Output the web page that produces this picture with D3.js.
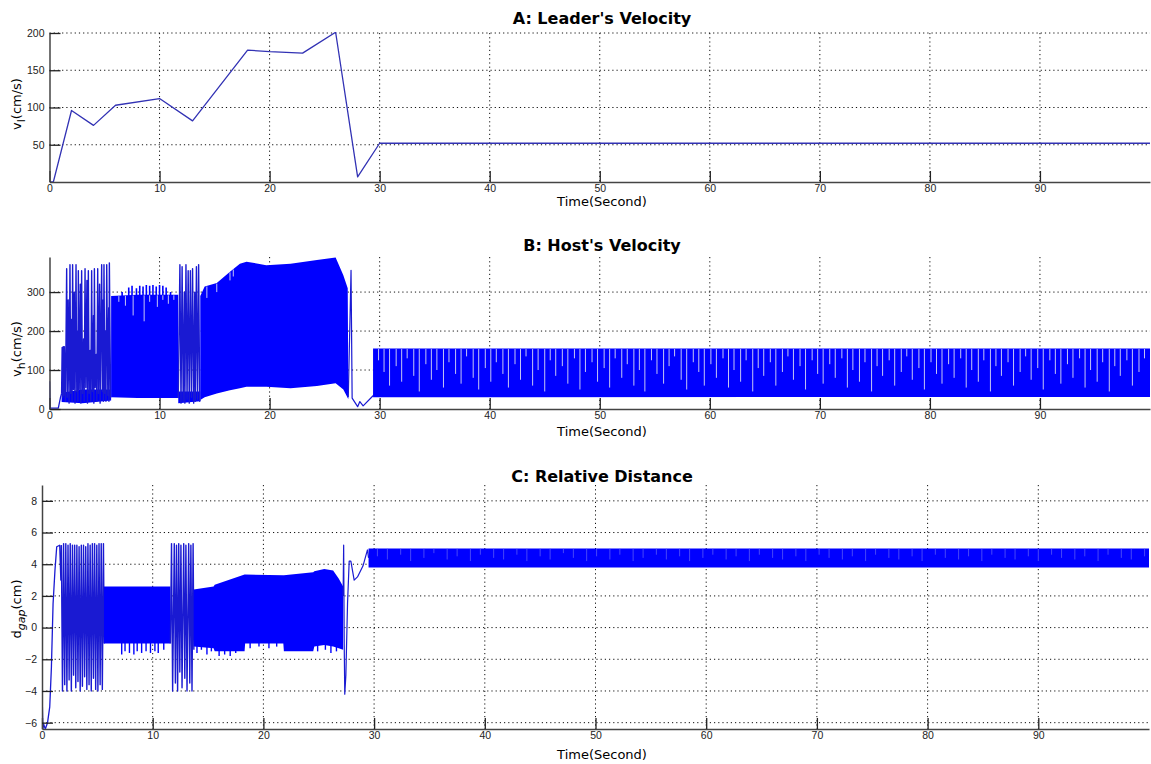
<!DOCTYPE html>
<html>
<head>
<meta charset="utf-8">
<script src="https://cdn.jsdelivr.net/npm/d3@7"></script>
<style>
  body { margin: 0; background: #fff; }
  svg { display: block; }
</style>
</head>
<body>
<div id="chart"></div>
<script>
var WIDTH = 1151
var HEIGHT = 764

// ---- A: leader's velocity ----
var leaderTime = [0, 0.35, 2, 4, 6, 10, 13, 18, 20, 23, 26, 28, 30, 100]
var leaderVel = [0, 0, 96, 76, 103, 112, 82, 177, 175, 173, 201, 7, 52, 52]

// ---- B: host's velocity ----
var xTicks = [0, 10, 20, 30, 40, 50, 60, 70, 80, 90]
var hostStart = [[0, 0], [0.01, 70], [0.05, 4], [0.1, 2], [0.8, 2], [1.0, 30], [1.1, 40]]
var hostBurst1 = [[1.1, 40], [1.15, 158], [1.2, 30], [1.25, 160], [1.3, 35], [1.35, 160], [1.45, 20], [1.56, 360],
  [1.62, 30], [1.7, 280], [1.78, 15], [1.86, 370], [1.93, 40], [2.0, 230], [2.05, 20], [2.1, 370], [2.18, 50],
  [2.25, 300], [2.32, 15], [2.41, 370], [2.48, 45], [2.55, 200], [2.58, 20], [2.62, 355], [2.7, 50], [2.8, 320],
  [2.85, 15], [2.92, 355], [3.0, 40], [3.1, 180], [3.15, 20], [3.23, 360], [3.3, 55], [3.4, 330], [3.45, 15],
  [3.53, 355], [3.6, 40], [3.7, 150], [3.75, 20], [3.83, 355], [3.9, 45], [4.0, 240], [4.03, 15], [4.08, 360],
  [4.15, 55], [4.25, 140], [4.3, 20], [4.38, 360], [4.45, 40], [4.55, 320], [4.6, 15], [4.74, 370], [4.8, 45],
  [4.88, 280], [4.9, 20], [4.95, 370], [5.03, 40], [5.1, 200], [5.13, 20], [5.2, 370], [5.3, 35], [5.38, 260],
  [5.4, 20], [5.44, 375], [5.55, 30], [5.6, 30]]
var hostBurst1Base = [[1.1, 18, 42], [3.0, 15, 50], [5.6, 22, 50]]
var hostBand1 = [[5.6, 30, 290], [8.0, 28, 293], [11.7, 28, 293]]
var hostTopSpikes = [[6.6, 300], [7.2, 312], [7.5, 316], [7.9, 310], [8.2, 316], [8.5, 314], [8.8, 318], [9.1, 316],
  [9.4, 318], [9.7, 314], [10.0, 318], [10.3, 316], [10.6, 312], [11.0, 300]]
var hostBand1Gaps = [[6.3, 275], [6.9, 265], [7.6, 240], [8.6, 225], [9.1, 275], [9.8, 262], [10.3, 280], [10.8, 270], [11.3, 280]]
var hostBurst2 = [[11.7, 28], [11.85, 370], [11.95, 15], [12.05, 365], [12.15, 20], [12.25, 300], [12.3, 15],
  [12.4, 370], [12.5, 25], [12.6, 355], [12.7, 15], [12.8, 355], [12.9, 30], [13.0, 360], [13.1, 15], [13.2, 300],
  [13.25, 20], [13.35, 365], [13.45, 25], [13.55, 370], [13.65, 20], [13.7, 23]]
var hostBurst2Base = [[11.7, 15, 45], [13.7, 20, 45]]
var hostBand2 = [[13.7, 23, 290], [14.1, 30, 314], [15.2, 40, 323], [16.4, 48, 352], [17.3, 53, 373], [17.9, 57, 378],
  [19.7, 57, 369], [21.9, 53, 373], [24.3, 59, 382], [26.0, 66, 389], [26.7, 50, 343], [27.1, 28, 310], [27.15, 25, 60]]
var hostBand2Gaps = [[14.3, 285], [15.2, 300], [16.4, 330], [16.7, 340]]
var hostEnd = [[27.15, 30], [27.4, 356], [27.5, 28], [28.0, 6], [28.2, 19], [28.5, 8], [29.4, 34], [29.5, 36]]
var hostBand3 = [[29.4, 30, 155], [100, 31, 155]]
var hostBand3Gaps = [[29.9, 125], [30.4, 95], [30.9, 60], [31.5, 110], [32.0, 70], [32.5, 130], [33.1, 85], [33.6, 45], [34.2, 115], [34.7, 75],
  [35.2, 100], [35.8, 55], [36.3, 120], [36.9, 90], [37.4, 65], [37.9, 135], [38.5, 80], [39.0, 50], [39.6, 105], [40.1, 70],
  [40.6, 120], [41.2, 90], [41.7, 55], [42.3, 115], [42.8, 75], [43.3, 135], [43.9, 60], [44.4, 100], [45.0, 45], [45.5, 125],
  [46.0, 85], [46.6, 110], [47.1, 65], [47.7, 130], [48.2, 50], [48.7, 95], [49.3, 120], [49.8, 70], [50.4, 105], [50.9, 55],
  [51.4, 130], [52.0, 80], [52.5, 115], [53.1, 60], [53.6, 100], [54.1, 45], [54.7, 125], [55.2, 90], [55.8, 65], [56.3, 110],
  [56.8, 135], [57.4, 75], [57.9, 50], [58.5, 120], [59.0, 95], [59.5, 60], [60.1, 115], [60.6, 80], [61.2, 130], [61.7, 55],
  [62.2, 100], [62.8, 70], [63.3, 125], [63.9, 45], [64.4, 105], [64.9, 85], [65.5, 120], [66.0, 60], [66.6, 95], [67.1, 135],
  [67.6, 75], [68.2, 110], [68.7, 50], [69.3, 125], [69.8, 90], [70.3, 65], [70.9, 115], [71.4, 80], [72.0, 130], [72.5, 55],
  [73.0, 100], [73.6, 70], [74.1, 120], [74.7, 45], [75.2, 110], [75.7, 85], [76.3, 125], [76.8, 60], [77.4, 95], [77.9, 135],
  [78.4, 75], [79.0, 105], [79.5, 50], [80.1, 120], [80.6, 90], [81.1, 65], [81.7, 115], [82.2, 80], [82.8, 130], [83.3, 55],
  [83.8, 100], [84.4, 70], [84.9, 125], [85.5, 45], [86.0, 110], [86.5, 85], [87.1, 120], [87.6, 60], [88.2, 95], [88.7, 135],
  [89.2, 75], [89.8, 105], [90.3, 50], [90.9, 125], [91.4, 90], [91.9, 65], [92.5, 115], [93.0, 80], [93.6, 130], [94.1, 55],
  [94.6, 100], [95.2, 70], [95.7, 120], [96.3, 45], [96.8, 110], [97.3, 85], [97.9, 125], [98.4, 60], [99.0, 95], [99.5, 130]]

// ---- C: relative distance ----
var gapStart = [[0, -3.9], [0.08, -6.4], [0.15, -6.1], [0.3, -6.4], [0.5, -6.0], [0.7, -5.0], [0.85, -2.5], [1.0, 1.5],
  [1.17, 3.6], [1.33, 5.1], [1.6, 5.2], [1.7, 3.0], [1.75, 5.2]]
var gapBurst1 = [[1.75, 5.2], [1.85, -4.0], [1.95, 5.3], [2.05, -3.6], [2.15, 5.3], [2.25, -4.0], [2.35, 5.2], [2.45, -3.3],
  [2.55, 5.3], [2.65, -4.0], [2.75, 5.2], [2.85, -3.0], [2.95, 5.2], [3.05, -3.8], [3.15, 5.2], [3.25, -3.4], [3.35, 5.1],
  [3.45, -4.0], [3.55, 5.2], [3.65, -3.7], [3.75, 5.2], [3.85, -3.1], [3.95, 5.1], [4.05, -3.9], [4.15, 5.3], [4.25, -3.6],
  [4.35, 5.2], [4.45, -4.0], [4.55, 5.3], [4.65, -3.2], [4.75, 5.3], [4.85, -3.9], [4.95, 5.2], [5.05, -4.0], [5.15, 5.3],
  [5.25, -3.6], [5.35, 5.3], [5.45, -3.9], [5.55, 5.3], [5.62, -1.0]]
var gapBand1 = [[5.6, -1.0, 2.6], [11.6, -1.0, 2.6]]
var gapLowSpikes = [[7.2, -1.7], [7.5, -1.5], [7.9, -1.6], [8.3, -1.7], [8.6, -1.5], [9.0, -1.6], [9.4, -1.5], [9.8, -1.6],
  [10.2, -1.5], [10.5, -1.6], [11.0, -1.4]]
var gapBurst2 = [[11.6, -1.0], [11.7, 5.3], [11.8, -4.0], [11.95, 5.3], [12.05, -3.5], [12.15, 5.2], [12.25, -4.0],
  [12.35, 5.3], [12.45, -2.8], [12.55, 5.2], [12.65, -3.8], [12.8, 5.3], [12.9, -3.2], [13.0, 5.2], [13.1, -4.0],
  [13.25, 5.3], [13.35, -3.5], [13.45, 5.2], [13.55, -4.0], [13.65, 5.3], [13.72, -1.4]]
var gapBand2 = [[13.7, -1.2, 2.4], [15.5, -1.3, 2.6], [15.6, -1.5, 2.7], [18.3, -1.5, 3.35], [18.35, -1.0, 3.35],
  [21.8, -1.0, 3.3], [21.85, -1.5, 3.3], [24.5, -1.5, 3.5], [24.6, -1.2, 3.55], [25.5, -1.1, 3.7], [26.3, -1.2, 3.6],
  [26.8, -1.3, 3.1], [27.2, -1.4, 2.6]]
var gapBand2LowSpikes = [[14.0, -1.6], [14.4, -1.4], [14.9, -1.7], [15.3, -1.5], [16.0, -1.8], [16.5, -1.7], [17.0, -1.8],
  [17.5, -1.6], [18.8, -1.3], [19.6, -1.2], [20.5, -1.3], [21.2, -1.2], [24.9, -1.5], [25.6, -1.4], [26.1, -1.6], [26.6, -1.5]]
var gapEnd = [[27.2, 2.0], [27.25, 5.2], [27.3, -1.0], [27.35, -4.2], [27.45, -3.0], [27.6, 1.5], [27.75, 4.2], [27.9, 4.2],
  [28.2, 3.0], [28.5, 3.2], [29.0, 3.9], [29.4, 4.9], [29.5, 4.4]]
var gapBand3 = [[29.5, 3.8, 5.0], [100, 3.8, 5.0]]
var gapBand3Gaps = [[30.3, 4.5], [31.2, 4.3], [32.4, 4.6], [33.3, 4.2], [34.5, 4.4], [35.4, 4.7], [36.6, 4.3], [37.5, 4.5], [38.7, 4.2], [39.6, 4.6],
  [40.8, 4.4], [41.7, 4.3], [42.9, 4.6], [43.8, 4.2], [45.0, 4.5], [45.9, 4.3], [47.1, 4.7], [48.0, 4.4], [49.2, 4.2], [50.1, 4.5],
  [51.3, 4.3], [52.2, 4.6], [53.4, 4.2], [54.3, 4.4], [55.5, 4.6], [56.4, 4.3], [57.6, 4.5], [58.5, 4.2], [59.7, 4.4], [60.6, 4.6],
  [61.8, 4.3], [62.7, 4.5], [63.9, 4.2], [64.8, 4.6], [66.0, 4.4], [66.9, 4.3], [68.1, 4.5], [69.0, 4.2], [70.2, 4.6], [71.1, 4.4],
  [72.3, 4.3], [73.2, 4.5], [74.4, 4.2], [75.3, 4.6], [76.5, 4.4], [77.4, 4.3], [78.6, 4.5], [79.5, 4.2], [80.7, 4.6], [81.6, 4.4],
  [82.8, 4.3], [83.7, 4.5], [84.9, 4.2], [85.8, 4.6], [87.0, 4.4], [87.9, 4.3], [89.1, 4.5], [90.0, 4.2], [91.2, 4.6], [92.1, 4.4],
  [93.3, 4.3], [94.2, 4.5], [95.4, 4.2], [96.3, 4.6], [97.5, 4.4], [98.4, 4.3], [99.6, 4.5]]

var BLUE = '#0000ff'
var TRACE = '#1a1ad2'
var GAP = '#c4c4f4'

const svg = d3.select('#chart').append('svg')
  .attr('width', WIDTH)
  .attr('height', HEIGHT)
  .style('font-family', 'DejaVu Sans, sans-serif')

// one panel: scales, grid, axes, labels
function makePanel(cfg) {
  let x = d3.scaleLinear().domain([0, 100]).range([cfg.left, cfg.right])
  let y = d3.scaleLinear().domain(cfg.yDomain).range([cfg.bottom, cfg.top])
  let g = svg.append('g')

  let clipId = 'clip' + cfg.id
  g.append('clipPath').attr('id', clipId).append('rect')
    .attr('x', cfg.left).attr('y', cfg.top - 1)
    .attr('width', cfg.right - cfg.left).attr('height', cfg.bottom - cfg.top + 1)

  // dotted grid
  let grid = g.append('g')
  grid.selectAll('line.vg')
    .data(xTicks.filter(t => t > 0))
    .enter().append('line')
    .attr('x1', d => x(d)).attr('x2', d => x(d))
    .attr('y1', cfg.top).attr('y2', cfg.bottom)
  grid.selectAll('line.hg')
    .data(cfg.yTicks.filter(t => t > cfg.yDomain[0]))
    .enter().append('line')
    .attr('x1', cfg.left).attr('x2', cfg.right)
    .attr('y1', d => y(d)).attr('y2', d => y(d))
  grid.selectAll('line')
    .attr('stroke', '#111')
    .attr('stroke-width', 1)
    .attr('stroke-dasharray', '1.2,3')

  let data = g.append('g').attr('clip-path', 'url(#' + clipId + ')')

  // title + labels
  svg.append('text')
    .attr('x', 602).attr('y', cfg.titleY)
    .attr('text-anchor', 'middle')
    .attr('font-size', 16).attr('font-weight', 'bold')
    .text(cfg.title)
  svg.append('text')
    .attr('x', 602).attr('y', cfg.xLabelY)
    .attr('text-anchor', 'middle')
    .attr('font-size', 13)
    .text('Time(Second)')
  let yl = svg.append('text')
    .attr('transform', 'translate(21,' + cfg.yLabelY + ') rotate(-90)')
    .attr('text-anchor', 'middle')
    .attr('font-size', 13)
  yl.append('tspan').text(cfg.yMain)
  yl.append('tspan').attr('dy', 4).attr('font-size', 11)
    .attr('font-style', cfg.subItalic ? 'italic' : 'normal').text(cfg.ySub)
  yl.append('tspan').attr('dy', -4).text('(' + cfg.yUnit + ')')

  return { x: x, y: y, g: g, data: data, cfg: cfg }
}

function drawAxes(p) {
  let cfg = p.cfg
  let xAxis = d3.axisBottom(p.x).tickValues(xTicks).tickSize(-11).tickSizeOuter(0).tickPadding(3)
  let yAxis = d3.axisLeft(p.y).tickValues(cfg.yTicks).tickSize(-11).tickSizeOuter(0).tickPadding(5)
  let gx = p.g.append('g').attr('transform', 'translate(0,' + cfg.bottom + ')').call(xAxis)
  let gy = p.g.append('g').attr('transform', 'translate(' + cfg.left + ',0)').call(yAxis)
  ;[gx, gy].forEach(a => {
    a.select('.domain').attr('stroke', '#444').attr('stroke-width', 1.5)
    a.selectAll('.tick line').attr('stroke', '#222').attr('stroke-width', 1.3)
    a.selectAll('.tick text')
      .attr('fill', '#222')
      .style('font-family', 'Liberation Sans, Arial, sans-serif')
      .style('font-size', '10.5px')
  })
}

function drawBand(p, rows) {
  p.data.append('path')
    .datum(rows)
    .attr('fill', BLUE)
    .attr('d', d3.area().x(d => p.x(d[0])).y0(d => p.y(d[1])).y1(d => p.y(d[2])))
}

function drawTrace(p, rows, color, w) {
  p.data.append('path')
    .datum(rows)
    .attr('fill', 'none')
    .attr('stroke', color)
    .attr('stroke-width', w)
    .attr('stroke-linejoin', 'round')
    .attr('d', d3.line().x(d => p.x(d[0])).y(d => p.y(d[1])))
}

// vertical spikes sticking out of a band edge
function drawSpikes(p, rows, from, w) {
  p.data.selectAll(null)
    .data(rows)
    .enter().append('line')
    .attr('x1', d => p.x(d[0])).attr('x2', d => p.x(d[0]))
    .attr('y1', p.y(from)).attr('y2', d => p.y(d[1]))
    .attr('stroke', BLUE).attr('stroke-width', w)
}

// light vertical streaks hanging from the top of a band
function drawGaps(p, band, rows, color) {
  let top = d3.scaleLinear().domain(band.map(d => d[0])).range(band.map(d => d[2])).clamp(true)
  p.data.selectAll(null)
    .data(rows)
    .enter().append('line')
    .attr('x1', d => p.x(d[0])).attr('x2', d => p.x(d[0]))
    .attr('y1', d => p.y(top(d[0])) + 0.5).attr('y2', d => p.y(d[1]))
    .attr('stroke', color)
    .attr('stroke-width', 1)
}

// ---------- panel A ----------
let pA = makePanel({
  id: 'A', left: 49.5, right: 1150, top: 33, bottom: 182,
  yDomain: [0, 200], yTicks: [50, 100, 150, 200],
  title: "A: Leader's Velocity", titleY: 24, xLabelY: 206, yLabelY: 104,
  yMain: 'v', ySub: 'l', yUnit: 'cm/s', subItalic: false
})
drawTrace(pA, leaderTime.map((t, i) => [t, leaderVel[i]]), '#3232b4', 1.3)
drawAxes(pA)

// ---------- panel B ----------
let pB = makePanel({
  id: 'B', left: 49.5, right: 1150, top: 257, bottom: 409,
  yDomain: [0, 390], yTicks: [0, 100, 200, 300],
  title: "B: Host's Velocity", titleY: 251, xLabelY: 436, yLabelY: 349,
  yMain: 'v', ySub: 'h', yUnit: 'cm/s', subItalic: false
})
drawTrace(pB, hostStart, TRACE, 1.3)
drawBand(pB, hostBurst1Base)
drawTrace(pB, hostBurst1, TRACE, 1.4)
drawBand(pB, hostBand1)
drawSpikes(pB, hostTopSpikes, 290, 1.6)
drawGaps(pB, hostBand1, hostBand1Gaps, GAP)
drawBand(pB, hostBurst2Base)
drawTrace(pB, hostBurst2, TRACE, 1.4)
drawBand(pB, hostBand2)
drawGaps(pB, hostBand2, hostBand2Gaps, GAP)
drawTrace(pB, hostEnd, TRACE, 1.2)
drawBand(pB, hostBand3)
drawGaps(pB, hostBand3, hostBand3Gaps, GAP)
drawAxes(pB)

// ---------- panel C ----------
let pC = makePanel({
  id: 'C', left: 42, right: 1149, top: 485, bottom: 729,
  yDomain: [-6.4, 9], yTicks: [-6, -4, -2, 0, 2, 4, 6, 8],
  title: 'C: Relative Distance', titleY: 482, xLabelY: 759, yLabelY: 609,
  yMain: 'd', ySub: 'gap', yUnit: 'cm', subItalic: true
})
drawTrace(pC, gapStart, TRACE, 1.3)
drawTrace(pC, gapBurst1, TRACE, 1.4)
drawBand(pC, gapBand1)
drawSpikes(pC, gapLowSpikes, -0.9, 1.4)
drawTrace(pC, gapBurst2, TRACE, 1.4)
drawBand(pC, gapBand2)
drawSpikes(pC, gapBand2LowSpikes, -0.9, 1.4)
drawTrace(pC, gapEnd, TRACE, 1.2)
drawBand(pC, gapBand3)
drawGaps(pC, gapBand3, gapBand3Gaps, '#4646f8')
drawAxes(pC)
</script>
</body>
</html>
